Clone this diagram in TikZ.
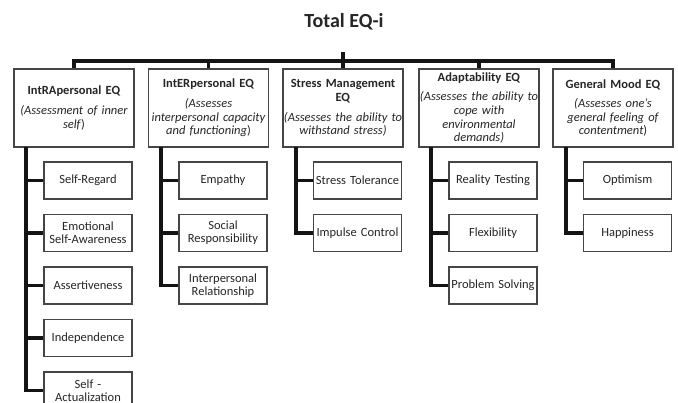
\documentclass[tikz,border=0pt]{standalone}
\usepackage{fontspec}
\setmainfont{Carlito}
\definecolor{linecol}{HTML}{141414}
\definecolor{boxcol}{HTML}{454545}
\definecolor{txtcol}{HTML}{262626}
\begin{document}
\begin{tikzpicture}[x=1pt,y=-1pt,
  conn/.style={line width=3.2pt, draw=linecol, line join=miter},
  group/.style={draw=boxcol, line width=1.1pt, fill=white, minimum width=120pt,
    minimum height=78pt, text width=128pt, align=center, inner xsep=-4pt, inner ysep=0pt,
    font=\fontsize{12.5}{13.6}\selectfont, text=txtcol},
  item/.style={draw=boxcol, line width=1.1pt, fill=white, minimum width=88pt,
    minimum height=37pt, text width=92pt, align=center, inner xsep=-2pt, inner ysep=0pt,
    font=\fontsize{12.5}{13.2}\selectfont, text=txtcol},
]
\clip (0,0) rectangle (678,403);

% heading
\node[text=txtcol, font=\fontsize{20}{24}\selectfont\bfseries] (title) at (344,22) {Total EQ-i};
\coordinate (stub) at (343,52);
\coordinate (bar) at (343,61);

% the five composite scales
\node[group] (g1) at (74,108)    {\textbf{IntRApersonal EQ}\\[6pt]{\itshape (Assessment of inner\\ self\/})};
\node[group] (g2) at (208.5,108) {\textbf{IntERpersonal EQ}\\[6pt]{\itshape (Assesses\\ interpersonal capacity\\ and functioning\/})};
\node[group] (g3) at (343,108)   {\textbf{Stress Management}\\\textbf{EQ}\\[6pt]{\itshape (Assesses the ability to\\ withstand stress)}};
\node[group] (g4) at (479,108)   {\textbf{Adaptability EQ}\\[6pt]{\itshape (Assesses the ability to\\ cope with\\ environmental\\ demands)}};
\node[group] (g5) at (613,108)   {\textbf{General Mood EQ}\\[6pt]{\itshape (Assesses one’s\\ general feeling of\\ contentment\/})};

% subscales
\node[item] (a1) at (88,180.5)  {Self-Regard};
\node[item] (a2) at (88,233)    {Emotional\\ Self-Awareness};
\node[item] (a3) at (88,285.5)  {Assertiveness};
\node[item] (a4) at (88,338)    {Independence};
\node[item] (a5) at (88,390.5)  {Self -\\ Actualization};

\node[item] (b1) at (223,180.5) {Empathy};
\node[item] (b2) at (223,233)   {Social\\ Responsibility};
\node[item] (b3) at (223,285.5) {Interpersonal\\ Relationship};

\node[item] (c1) at (357.5,180.5) {Stress Tolerance};
\node[item] (c2) at (357.5,233)   {Impulse Control};

\node[item] (d1) at (493,180.5) {Reality Testing};
\node[item] (d2) at (493,233)   {Flexibility};
\node[item] (d3) at (493,285.5) {Problem Solving};

\node[item] (e1) at (627.5,180.5) {Optimism};
\node[item] (e2) at (627.5,233)   {Happiness};

% top level connectors
\draw[conn] (stub) -- (g3.north);
\draw[conn] (g1.north) -- (g1.north |- bar) -- (g5.north |- bar) -- (g5.north);
\draw[conn] (g2.north |- bar) -- (g2.north);
\draw[conn] (g4.north |- bar) -- (g4.north);

% spines
\coordinate (s1) at (26,147.5);
\coordinate (s2) at (161,147.5);
\coordinate (s3) at (296,147.5);
\coordinate (s4) at (431,147.5);
\coordinate (s5) at (566,147.5);

\draw[conn] (s1) |- (a5.west);
\foreach \n in {a1,a2,a3,a4} \draw[conn] (\n.west) -- (\n.west -| s1);
\draw[conn] (s2) |- (b3.west);
\foreach \n in {b1,b2} \draw[conn] (\n.west) -- (\n.west -| s2);
\draw[conn] (s3) |- (c2.west);
\draw[conn] (c1.west) -- (c1.west -| s3);
\draw[conn] (s4) |- (d3.west);
\foreach \n in {d1,d2} \draw[conn] (\n.west) -- (\n.west -| s4);
\draw[conn] (s5) |- (e2.west);
\draw[conn] (e1.west) -- (e1.west -| s5);
\end{tikzpicture}
\end{document}
